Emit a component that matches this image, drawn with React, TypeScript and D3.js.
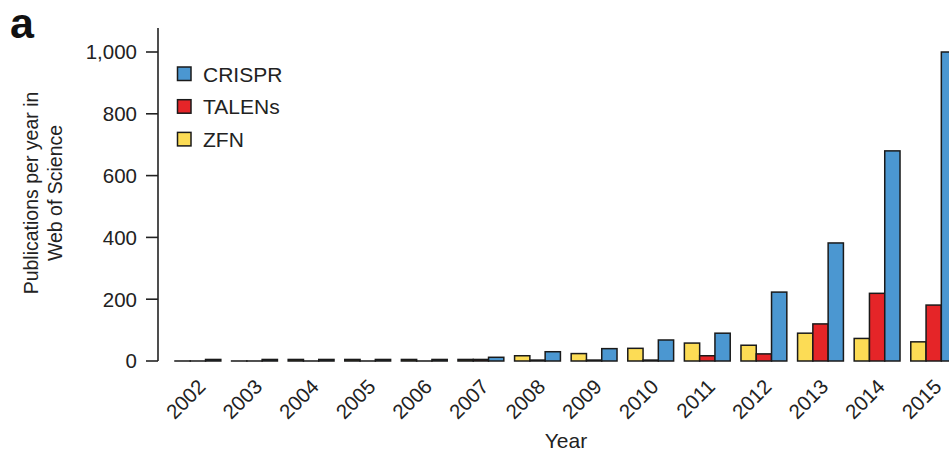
import React from "react";
import * as d3 from "d3";

const years = ["2002","2003","2004","2005","2006","2007","2008","2009","2010","2011","2012","2013","2014","2015"];
const seriesNames = ["ZFN", "TALENs", "CRISPR"];
const zfn = [0, 0, 5, 5, 5, 5, 17, 24, 41, 58, 51, 90, 73, 62];
const talens = [0, 0, 0, 0, 0, 5, 3, 3, 3, 17, 23, 120, 219, 181];
const crispr = [5, 5, 5, 5, 5, 12, 30, 40, 68, 90, 223, 382, 680, 1000];
const yTicks = [0, 200, 400, 600, 800, 1000];
const legendOrder = ["CRISPR", "TALENs", "ZFN"];

const colors: Record<string, string> = {
  ZFN: "#FCDC55",
  TALENs: "#E52528",
  CRISPR: "#4B97D1",
};

const W = 949;
const H = 453;
const FONT = "'Liberation Sans', Arial, Helvetica, sans-serif";
const INK = "#222";

export default function App() {
  const valuesBySeries: Record<string, number[]> = { ZFN: zfn, TALENs: talens, CRISPR: crispr };

  const x = d3.scaleBand<string>().domain(years).range([158, 973.6]).paddingInner(0.19).paddingOuter(0.3);
  const xi = d3.scaleBand<string>().domain(seriesNames).range([0, x.bandwidth()]).padding(0);
  const y = d3.scaleLinear().domain([0, 1000]).range([361, 52]);
  const axisTop = y(1078);
  const axisX = 158;

  return (
    <svg width={W} height={H} style={{ position: "absolute", left: 0, top: 0, background: "#fff" }} fontFamily={FONT}>
      <rect x={0} y={0} width={W} height={H} fill="#fff" />
      {/* panel label */}
      <text x={10} y={38} fontSize={43} fontWeight="bold" fill="#111">a</text>

      {/* y axis */}
      <line x1={axisX} x2={axisX} y1={axisTop} y2={y(0)} stroke={INK} strokeWidth={1.6} />
      {yTicks.map((t) => (
        <g key={t}>
          <line x1={axisX - 12} x2={axisX} y1={y(t)} y2={y(t)} stroke={INK} strokeWidth={1.6} />
          <text x={137} y={y(t)} dy="0.36em" textAnchor="end" fontSize={20.5} fill={INK}>
            {d3.format(",")(t)}
          </text>
        </g>
      ))}

      {/* y axis title */}
      <g transform="translate(38,193) rotate(-90)">
        <text x={0} y={0} textAnchor="middle" fontSize={19.5} fill={INK}>Publications per year in</text>
        <text x={0} y={24} textAnchor="middle" fontSize={19.5} fill={INK}>Web of Science</text>
      </g>

      {/* bars */}
      {years.map((yr, i) => (
        <g key={yr} transform={`translate(${x(yr)},0)`}>
          {seriesNames.map((s) => {
            const v = valuesBySeries[s][i];
            const h = Math.max(y(0) - y(v), 0.01);
            return (
              <rect
                key={s}
                x={xi(s)}
                y={y(0) - h}
                width={xi.bandwidth()}
                height={h}
                fill={colors[s]}
                stroke="#1a1a1a"
                strokeWidth={1.5}
              />
            );
          })}
        </g>
      ))}

      {/* x tick labels */}
      {years.map((yr) => {
        const cx = (x(yr) as number) + x.bandwidth() / 2;
        return (
          <text
            key={yr}
            transform={`translate(${cx + 9},388) rotate(-45)`}
            textAnchor="end"
            fontSize={20.5}
            fill={INK}
          >
            {yr}
          </text>
        );
      })}

      {/* x axis title */}
      <text x={566} y={448} textAnchor="middle" fontSize={21} fill={INK}>Year</text>

      {/* legend */}
      {legendOrder.map((s, i) => {
        const cy = 74 + i * 32.7;
        return (
          <g key={s}>
            <rect x={177.5} y={cy - 7} width={13.5} height={13.5} fill={colors[s]} stroke="#1a1a1a" strokeWidth={1.5} />
            <text x={203} y={cy} dy="0.36em" fontSize={21} fill={INK}>{s}</text>
          </g>
        );
      })}
    </svg>
  );
}
